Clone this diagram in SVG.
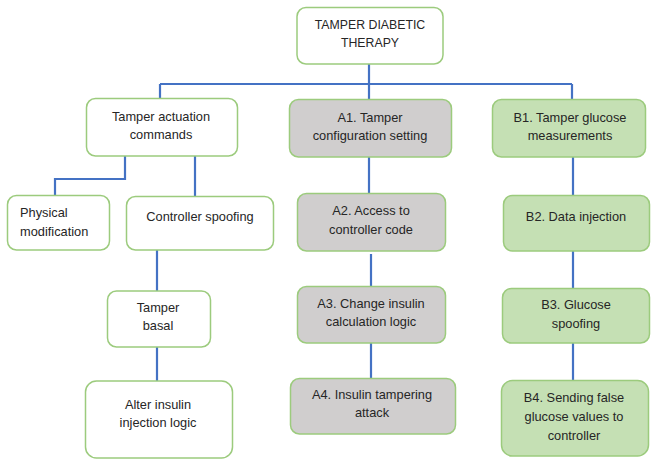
<svg xmlns="http://www.w3.org/2000/svg" width="651" height="459" viewBox="0 0 651 459">
  <style>
    .box { stroke: #9ccb7d; stroke-width: 1.5; }
    .plain { fill: #ffffff; }
    .grey { fill: #d0cece; }
    .green { fill: #c5e0b4; }
    .lbl { font-family: "Liberation Sans", Arial, sans-serif; font-size: 12.8px; fill: #262626; text-anchor: middle; }
    .caps { font-size: 12.3px; }
    .left { text-anchor: start; }
    .wire { fill: none; stroke: #4472c4; stroke-width: 2.2; }
  </style>
  <rect width="651" height="459" fill="#ffffff"/>

  <!-- connectors -->
  <g id="connectors">
    <path class="wire" d="M369,64 V157 M160,84 H572 M160,84 V98 M572,84 V99"/>
    <path class="wire" d="M125,156 V179 H55 V195 M195,156 V197"/>
    <path class="wire" d="M157,250 V291 M157,347 V381"/>
    <path class="wire" d="M369,157 V193 M371,254 V286 M371,343 V378"/>
    <path class="wire" d="M573,157 V195 M573,251 V288 M573,340 V380"/>
  </g>

  <g id="root">
    <rect class="box plain" x="297" y="7.5" width="146" height="56.5" rx="9"/>
    <text class="lbl caps" x="370" y="29">TAMPER DIABETIC</text>
    <text class="lbl caps" x="370" y="47">THERAPY</text>
  </g>

  <g id="actuation">
    <rect class="box plain" x="86.5" y="98.5" width="151" height="57.5" rx="9"/>
    <text class="lbl" x="161" y="121">Tamper actuation</text>
    <text class="lbl" x="161" y="139">commands</text>
  </g>

  <g id="a1">
    <rect class="box grey" x="289.5" y="99.5" width="162" height="57.5" rx="9"/>
    <text class="lbl" x="370" y="122">A1. Tamper</text>
    <text class="lbl" x="370" y="140">configuration setting</text>
  </g>

  <g id="b1">
    <rect class="box green" x="492.5" y="99.5" width="153" height="57.5" rx="9"/>
    <text class="lbl" x="570" y="122">B1. Tamper glucose</text>
    <text class="lbl" x="570" y="140">measurements</text>
  </g>

  <g id="physical">
    <rect class="box plain" x="7.5" y="195.5" width="102" height="54.5" rx="9"/>
    <text class="lbl left" x="20" y="217">Physical</text>
    <text class="lbl left" x="20" y="236">modification</text>
  </g>

  <g id="spoofing">
    <rect class="box plain" x="126.5" y="196.5" width="147" height="53.5" rx="9"/>
    <text class="lbl" x="200" y="221">Controller spoofing</text>
  </g>

  <g id="basal">
    <rect class="box plain" x="107.5" y="291" width="103" height="56" rx="9"/>
    <text class="lbl" x="158" y="312">Tamper</text>
    <text class="lbl" x="158" y="330">basal</text>
  </g>

  <g id="alter">
    <rect class="box plain" x="85.5" y="381" width="147" height="77" rx="11"/>
    <text class="lbl" x="158" y="409">Alter insulin</text>
    <text class="lbl" x="158" y="427">injection logic</text>
  </g>

  <g id="a2">
    <rect class="box grey" x="297.5" y="193.5" width="148" height="57.5" rx="9"/>
    <text class="lbl" x="371" y="215">A2. Access to</text>
    <text class="lbl" x="371" y="234">controller code</text>
  </g>

  <g id="a3">
    <rect class="box grey" x="297.5" y="286.5" width="148" height="56.5" rx="9"/>
    <text class="lbl" x="371" y="308">A3. Change insulin</text>
    <text class="lbl" x="371" y="326">calculation logic</text>
  </g>

  <g id="a4">
    <rect class="box grey" x="290.5" y="378.5" width="165" height="55.5" rx="9"/>
    <text class="lbl" x="372" y="399">A4. Insulin tampering</text>
    <text class="lbl" x="372" y="417">attack</text>
  </g>

  <g id="b2">
    <rect class="box green" x="503.5" y="195.5" width="146" height="55.5" rx="9"/>
    <text class="lbl" x="576" y="221">B2. Data injection</text>
  </g>

  <g id="b3">
    <rect class="box green" x="502.5" y="288.5" width="147" height="54.5" rx="9"/>
    <text class="lbl" x="576" y="309">B3. Glucose</text>
    <text class="lbl" x="576" y="328">spoofing</text>
  </g>

  <g id="b4">
    <rect class="box green" x="501.5" y="380.5" width="147" height="75.5" rx="11"/>
    <text class="lbl" x="574" y="402">B4. Sending false</text>
    <text class="lbl" x="574" y="421">glucose values to</text>
    <text class="lbl" x="574" y="440">controller</text>
  </g>
</svg>
